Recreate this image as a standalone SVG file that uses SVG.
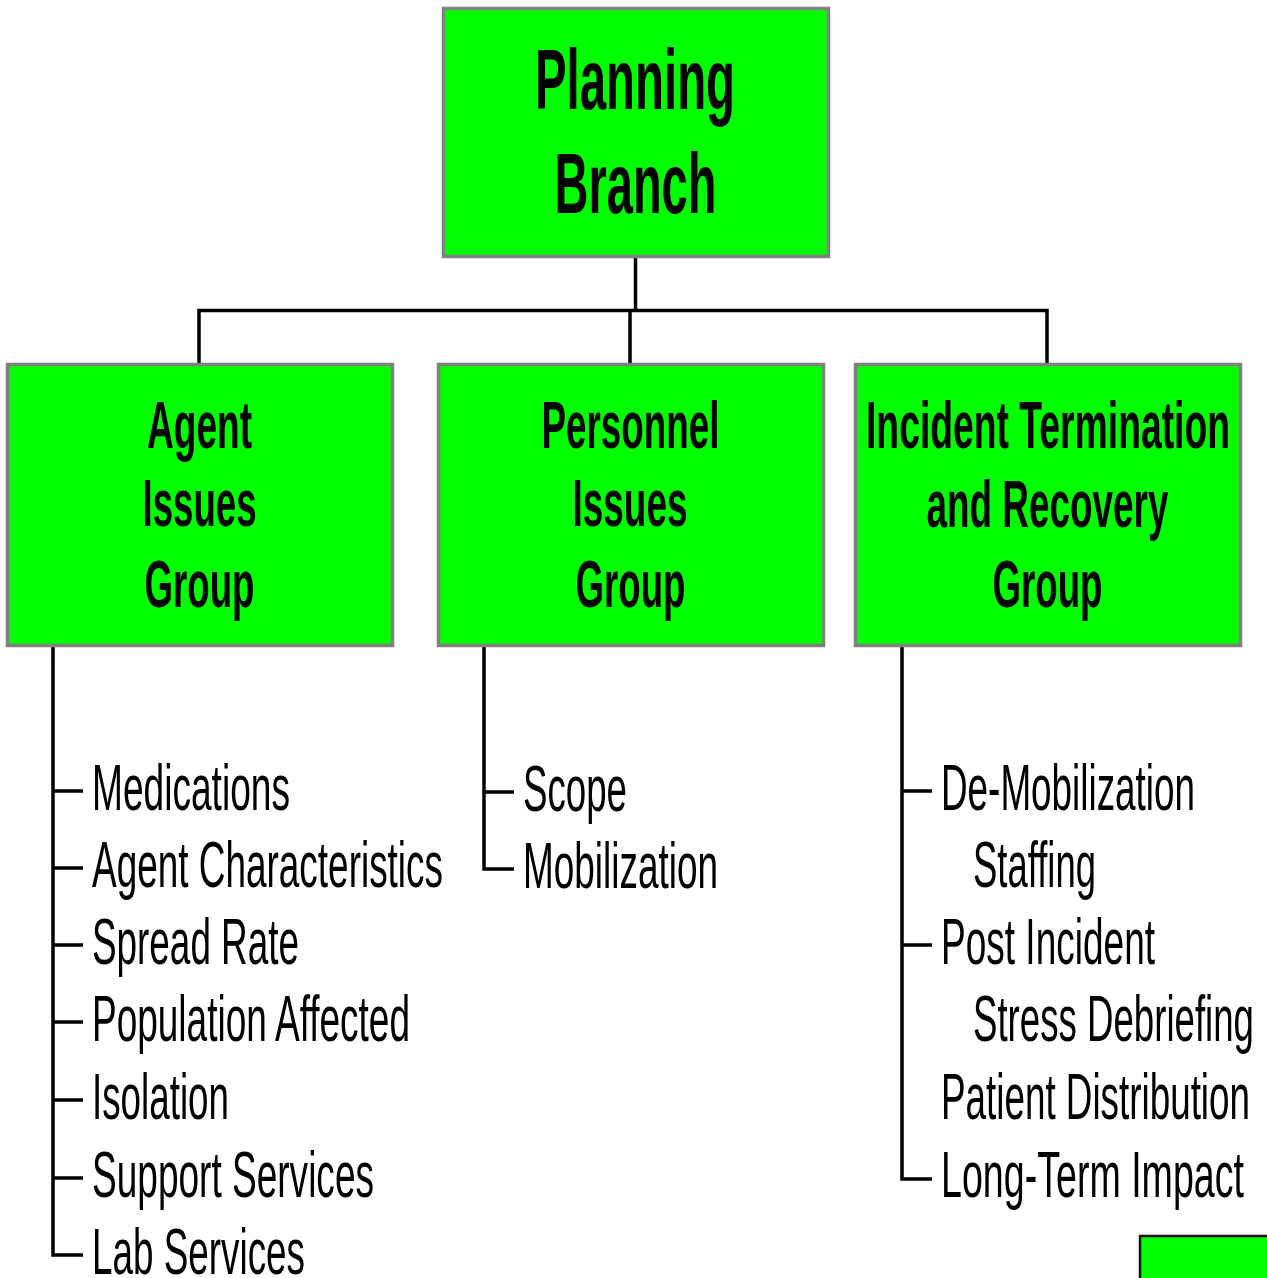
<svg xmlns="http://www.w3.org/2000/svg" width="1267" height="1278" viewBox="0 0 1267 1278">
<style>
.box{fill:#00ff00;stroke:#808080;stroke-width:3.5}
.bt{font-family:"Liberation Sans",Arial,sans-serif;font-weight:bold;fill:#000;text-anchor:middle}
.big{font-size:85px}
.mid{font-size:66px}
.it{font-family:"Liberation Sans",Arial,sans-serif;font-size:65px;fill:#000}
.ln{fill:none;stroke:#000;stroke-width:3.5}
</style>
<rect width="1267" height="1278" fill="#fff"/>
<g id="connectors">
<path class="ln" d="M635.5 258V310.5M199 363V310.5H1047V363M630 310.5V363"/>
<path class="ln" d="M53 647V1255H83M53 791H83M53 868H83M53 945H83M53 1022H83M53 1100H83M53 1178H83"/>
<path class="ln" d="M484 647V869H514M484 792H514"/>
<path class="ln" d="M902 647V1179H932M902 791H932M902 945H932"/>
</g>
<g id="planning-branch">
<rect class="box" x="443.5" y="8.5" width="385" height="248"/>
<text class="bt big" x="635" y="109" textLength="200" lengthAdjust="spacingAndGlyphs">Planning</text>
<text class="bt big" x="635.5" y="213" textLength="162" lengthAdjust="spacingAndGlyphs">Branch</text>
</g>
<g id="agent-issues-group">
<rect class="box" x="7.5" y="364.5" width="385" height="281"/>
<text class="bt mid" x="199.5" y="448" textLength="105" lengthAdjust="spacingAndGlyphs">Agent</text>
<text class="bt mid" x="199.5" y="526" textLength="114" lengthAdjust="spacingAndGlyphs">Issues</text>
<text class="bt mid" x="199.5" y="607" textLength="110" lengthAdjust="spacingAndGlyphs">Group</text>
</g>
<g id="personnel-issues-group">
<rect class="box" x="438.5" y="364.5" width="385" height="281"/>
<text class="bt mid" x="630.5" y="448" textLength="178" lengthAdjust="spacingAndGlyphs">Personnel</text>
<text class="bt mid" x="630" y="526" textLength="115" lengthAdjust="spacingAndGlyphs">Issues</text>
<text class="bt mid" x="630.5" y="607" textLength="110" lengthAdjust="spacingAndGlyphs">Group</text>
</g>
<g id="incident-termination-group">
<rect class="box" x="855.5" y="364.5" width="385" height="281"/>
<text class="bt mid" x="1048" y="448" textLength="364" lengthAdjust="spacingAndGlyphs">Incident Termination</text>
<text class="bt mid" x="1047.5" y="527" textLength="242" lengthAdjust="spacingAndGlyphs">and Recovery</text>
<text class="bt mid" x="1047.5" y="607" textLength="110" lengthAdjust="spacingAndGlyphs">Group</text>
</g>
<g id="agent-items">
<text class="it" x="92" y="810" textLength="198" lengthAdjust="spacingAndGlyphs">Medications</text>
<text class="it" x="92" y="887" textLength="351" lengthAdjust="spacingAndGlyphs">Agent Characteristics</text>
<text class="it" x="92" y="964" textLength="207" lengthAdjust="spacingAndGlyphs">Spread Rate</text>
<text class="it" x="92" y="1041" textLength="318" lengthAdjust="spacingAndGlyphs">Population Affected</text>
<text class="it" x="92" y="1119" textLength="137" lengthAdjust="spacingAndGlyphs">Isolation</text>
<text class="it" x="92" y="1197" textLength="282" lengthAdjust="spacingAndGlyphs">Support Services</text>
<text class="it" x="92" y="1274" textLength="213" lengthAdjust="spacingAndGlyphs">Lab Services</text>
</g>
<g id="personnel-items">
<text class="it" x="523" y="811" textLength="104" lengthAdjust="spacingAndGlyphs">Scope</text>
<text class="it" x="523" y="888" textLength="195" lengthAdjust="spacingAndGlyphs">Mobilization</text>
</g>
<g id="incident-items">
<text class="it" x="941" y="810" textLength="254" lengthAdjust="spacingAndGlyphs">De-Mobilization</text>
<text class="it" x="973" y="887" textLength="123" lengthAdjust="spacingAndGlyphs">Staffing</text>
<text class="it" x="941" y="964" textLength="214" lengthAdjust="spacingAndGlyphs">Post Incident</text>
<text class="it" x="973" y="1041" textLength="281" lengthAdjust="spacingAndGlyphs">Stress Debriefing</text>
<text class="it" x="941" y="1119" textLength="309" lengthAdjust="spacingAndGlyphs">Patient Distribution</text>
<text class="it" x="941" y="1197" textLength="303" lengthAdjust="spacingAndGlyphs">Long-Term Impact</text>
</g>
<g id="partial-box">
<rect x="1140" y="1236" width="140" height="60" fill="#00ff00" stroke="#111" stroke-width="2.5"/>
</g>
</svg>
